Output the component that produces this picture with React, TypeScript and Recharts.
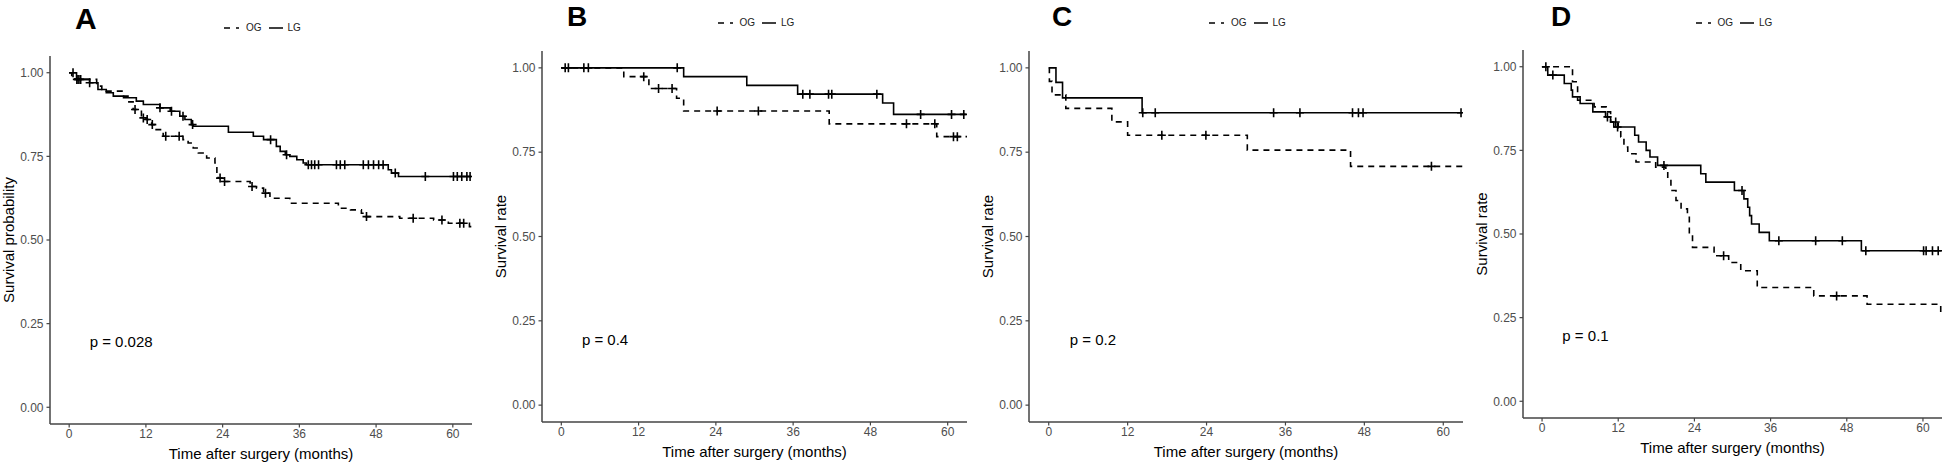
import {
  ComposedChart,
  Line,
  Scatter,
  XAxis,
  YAxis,
  Label,
  Legend,
  ReferenceDot,
} from "recharts";

type Step = [number, number];

const MONTH_TICKS = [0, 12, 24, 36, 48, 60];
const RATE_TICKS = [0, 0.25, 0.5, 0.75, 1];
const GROUPS = ["OG", "LG"];

// Kaplan-Meier steps: [month, survival]
const A_OG: Step[] = [
  [0, 1], [0.4, 0.985], [0.9, 0.98], [4.3, 0.96], [5.1, 0.95], [5.8, 0.945],
  [8.5, 0.93], [9.2, 0.913], [10.0, 0.89], [11.3, 0.865], [12.1, 0.86],
  [12.9, 0.845], [13.4, 0.83], [14.7, 0.81], [17.8, 0.8], [18.6, 0.79],
  [19.4, 0.775], [20.2, 0.76], [21.5, 0.745], [22.8, 0.73], [23.1, 0.7],
  [23.3, 0.685], [24.1, 0.675], [28.3, 0.66], [29.3, 0.655], [30.4, 0.64],
  [31.4, 0.625], [34.5, 0.61], [42.1, 0.595], [44.0, 0.59], [45.7, 0.58],
  [46.3, 0.57], [51.7, 0.565], [57.0, 0.56], [59.3, 0.55], [62.6, 0.54],
  [63, 0.54],
];
const A_LG: Step[] = [
  [0, 1], [1.15, 0.98], [3.2, 0.97], [4.5, 0.95], [5.8, 0.94], [6.9, 0.93],
  [8.5, 0.925], [10.5, 0.915], [11.6, 0.905], [14.2, 0.895], [15.8, 0.885],
  [17.3, 0.87], [18.1, 0.86], [19.1, 0.845], [19.4, 0.84], [24.9, 0.822],
  [28.8, 0.81], [30.4, 0.8], [32.4, 0.78], [33.0, 0.765], [33.8, 0.755],
  [34.5, 0.75], [35.6, 0.74], [36.6, 0.73], [37.1, 0.725], [49.9, 0.71],
  [50.4, 0.7], [51.5, 0.69], [62.9, 0.69],
];
const A_OG_CENSOR = [1.2, 1.8, 10.3, 11.6, 12.2, 13.0, 15.1, 17.2, 23.6, 24.3, 28.6, 30.7, 46.5, 53.8, 58.3, 61.1, 61.7];
const A_LG_CENSOR = [0.6, 1.4, 1.7, 3.2, 14.2, 16.0, 17.8, 19.3, 31.5, 34.0, 37.4, 37.9, 38.4, 39.0, 41.8, 42.4, 43.1, 46.0, 46.8, 47.6, 48.4, 49.1, 51.0, 55.7, 60.1, 60.7, 61.4, 62.2, 62.7];

const B_OG: Step[] = [
  [0, 1], [9.7, 0.974], [13.6, 0.939], [17.9, 0.91], [19.0, 0.872],
  [41.6, 0.834], [58.3, 0.796], [63, 0.796],
];
const B_LG: Step[] = [
  [0, 1], [19.0, 0.974], [28.8, 0.948], [36.7, 0.922], [49.9, 0.896],
  [51.6, 0.862], [62.8, 0.862],
];
const B_OG_CENSOR = [12.8, 15.1, 17.2, 24.2, 30.6, 53.6, 58.0, 60.9, 61.5];
const B_LG_CENSOR = [0.6, 1.1, 3.5, 4.2, 18.0, 37.5, 38.6, 41.5, 42.0, 49.0, 55.8, 60.6, 62.5];

const C_OG: Step[] = [
  [0, 1], [0.1, 0.96], [0.5, 0.92], [2.6, 0.88], [9.6, 0.84], [12.0, 0.8],
  [30.2, 0.756], [45.9, 0.708], [63, 0.708],
];
const C_LG: Step[] = [
  [0, 1], [1.1, 0.957], [2.1, 0.911], [14.2, 0.867], [62.9, 0.867],
];
const C_OG_CENSOR = [17.2, 23.9, 58.2];
const C_LG_CENSOR = [14.3, 16.2, 34.2, 38.2, 46.2, 47.1, 47.8, 62.7];

const D_OG: Step[] = [
  [0, 1], [4.8, 0.955], [5.6, 0.9], [8.2, 0.88], [10.1, 0.865], [10.8, 0.835],
  [12.0, 0.81], [12.4, 0.79], [12.9, 0.76], [13.5, 0.74], [14.8, 0.715],
  [17.9, 0.7], [19.5, 0.69], [19.8, 0.665], [20.3, 0.63], [21.1, 0.6],
  [21.9, 0.575], [22.9, 0.55], [23.2, 0.5], [23.7, 0.46], [27.1, 0.435],
  [29.4, 0.415], [31.3, 0.39], [33.9, 0.34], [42.8, 0.315], [51.2, 0.29],
  [62.8, 0.265], [63, 0.265],
];
const D_LG: Step[] = [
  [0, 1], [0.9, 0.975], [3.5, 0.95], [4.6, 0.93], [4.8, 0.91], [6.0, 0.89],
  [8.0, 0.865], [10.0, 0.85], [10.8, 0.835], [11.3, 0.82], [14.6, 0.795],
  [15.2, 0.775], [16.4, 0.75], [17.0, 0.73], [18.2, 0.705], [25.0, 0.68],
  [25.8, 0.655], [30.3, 0.63], [31.8, 0.605], [32.4, 0.58], [32.7, 0.555],
  [33.0, 0.53], [34.2, 0.505], [35.8, 0.48], [50.3, 0.45], [62.9, 0.45],
];
const D_OG_CENSOR = [11.6, 28.6, 46.4];
const D_LG_CENSOR = [0.6, 1.7, 10.3, 11.9, 19.2, 31.5, 37.3, 43.1, 47.3, 51.0, 60.1, 60.5, 61.5, 62.4];

const PANELS = [
  { letter: "A", yTitle: "Survival probability", p: "p = 0.028", og: A_OG, lg: A_LG, ogCensor: A_OG_CENSOR, lgCensor: A_LG_CENSOR, plot: { left: 50, right: 472, top: 56, bottom: 424 }, legendY: 28, letterX: 25, letterY: 29, letterSize: 30 },
  { letter: "B", yTitle: "Survival rate", p: "p = 0.4", og: B_OG, lg: B_LG, ogCensor: B_OG_CENSOR, lgCensor: B_LG_CENSOR, plot: { left: 542, right: 967, top: 51, bottom: 422 }, legendY: 23, letterX: 25, letterY: 26, letterSize: 28 },
  { letter: "C", yTitle: "Survival rate", p: "p = 0.2", og: C_OG, lg: C_LG, ogCensor: C_OG_CENSOR, lgCensor: C_LG_CENSOR, plot: { left: 1029, right: 1463, top: 51, bottom: 422 }, legendY: 23, letterX: 23, letterY: 26, letterSize: 28 },
  { letter: "D", yTitle: "Survival rate", p: "p = 0.1", og: D_OG, lg: D_LG, ogCensor: D_OG_CENSOR, lgCensor: D_LG_CENSOR, plot: { left: 1523, right: 1942, top: 50, bottom: 418 }, legendY: 23, letterX: 28, letterY: 26, letterSize: 28 },
];

const AXIS = "#444";
const TICK_TEXT = "#4d4d4d";
const DASH = "6 5";
const Y_AXIS_W = 60;
const X_AXIS_H = 45;

const toPoints = (steps: Step[]) => steps.map(([t, s]) => ({ t, s }));
const survivalAt = (steps: Step[], t: number) => {
  let s = 1;
  for (const [ti, si] of steps) if (ti <= t) s = si;
  return s;
};
const censorPoints = (steps: Step[], times: number[]) =>
  times.map((t) => ({ t, s: survivalAt(steps, t) }));

const Plus = (props: any) => {
  const { cx, cy } = props;
  if (cx == null || cy == null) return null;
  return (
    <path
      d={`M${cx - 4},${cy}h8M${cx},${cy - 4.5}v9`}
      stroke="#000"
      strokeWidth={1.6}
      fill="none"
    />
  );
};

function LegendKeys() {
  return (
    <div style={{ display: "flex", alignItems: "center", fontSize: 10, color: "#222", lineHeight: "10px" }}>
      {GROUPS.map((g, i) => (
        <span key={g} style={{ display: "flex", alignItems: "center" }}>
          <svg width={i === 0 ? 15 : 14} height={8} style={{ marginRight: i === 0 ? 7 : 5, marginLeft: i === 0 ? 0 : 7 }}>
            <line x1={0} x2={i === 0 ? 15 : 14} y1={4} y2={4} stroke="#000" strokeWidth={1.5} strokeDasharray={i === 0 ? "6 6" : undefined} />
          </svg>
          <span>{g}</span>
        </span>
      ))}
    </div>
  );
}

function Panel({ cfg }: { cfg: (typeof PANELS)[number] }) {
  const { plot } = cfg;
  const chartLeft = plot.left - Y_AXIS_W;
  const width = plot.right - plot.left + Y_AXIS_W + 4;
  const height = plot.bottom + X_AXIS_H;
  const midX = (plot.left + plot.right) / 2 - chartLeft;
  const midY = (plot.top + plot.bottom) / 2;

  return (
    <div style={{ position: "absolute", left: chartLeft, top: 0, width, height }}>
      <svg
        width={80}
        height={40}
        style={{ position: "absolute", left: plot.left - chartLeft + cfg.letterX - 2, top: 0 }}
      >
        <text x={2} y={cfg.letterY} fontSize={cfg.letterSize} fontWeight={700} fill="#000">
          {cfg.letter}
        </text>
      </svg>
      <ComposedChart
        width={width}
        height={height}
        margin={{ top: plot.top, right: 4, bottom: 0, left: 0 }}
      >
        <XAxis
          type="number"
          dataKey="t"
          domain={[-3, 63]}
          ticks={MONTH_TICKS}
          allowDataOverflow
          height={X_AXIS_H}
          axisLine={{ stroke: AXIS, strokeWidth: 1.5 }}
          tickLine={{ stroke: AXIS, strokeWidth: 1.2 }}
          tickSize={3.5}
          tickMargin={2}
          tick={{ fill: TICK_TEXT, fontSize: 12 }}
        >
          <Label
            content={() => (
              <text x={midX} y={plot.bottom + 29} textAnchor="middle" dominantBaseline="central" fontSize={15} fill="#000">
                Time after surgery (months)
              </text>
            )}
          />
        </XAxis>
        <YAxis
          type="number"
          dataKey="s"
          domain={[-0.05, 1.05]}
          ticks={RATE_TICKS}
          allowDataOverflow
          width={Y_AXIS_W}
          axisLine={{ stroke: AXIS, strokeWidth: 1.5 }}
          tickLine={{ stroke: AXIS, strokeWidth: 1.2 }}
          tickSize={3.5}
          tickMargin={3}
          tick={{ fill: TICK_TEXT, fontSize: 12 }}
          tickFormatter={(v: number) => v.toFixed(2)}
        >
          <Label
            content={() => (
              <text
                x={Y_AXIS_W - 42}
                y={midY}
                transform={`rotate(-90, ${Y_AXIS_W - 42}, ${midY})`}
                textAnchor="middle"
                dominantBaseline="central"
                fontSize={15}
                fill="#000"
              >
                {cfg.yTitle}
              </text>
            )}
          />
        </YAxis>
        <Legend
          verticalAlign="middle"
          align="center"
          layout="horizontal"
          wrapperStyle={{ top: cfg.legendY - 5, left: midX - 37, width: 90, height: 10 }}
          content={() => <LegendKeys />}
        />
        <Line
          data={toPoints(cfg.og)}
          dataKey="s"
          name="OG"
          type="stepAfter"
          stroke="#000"
          strokeWidth={1.6}
          strokeDasharray={DASH}
          dot={false}
          activeDot={false}
          isAnimationActive={false}
        />
        <Line
          data={toPoints(cfg.lg)}
          dataKey="s"
          name="LG"
          type="stepAfter"
          stroke="#000"
          strokeWidth={1.6}
          dot={false}
          activeDot={false}
          isAnimationActive={false}
        />
        <Scatter data={censorPoints(cfg.og, cfg.ogCensor)} dataKey="s" shape={Plus} legendType="none" isAnimationActive={false} />
        <Scatter data={censorPoints(cfg.lg, cfg.lgCensor)} dataKey="s" shape={Plus} legendType="none" isAnimationActive={false} />
        <ReferenceDot
          x={3.2}
          y={0.2}
          r={0}
          stroke="none"
          fill="none"
          label={(props: any) => {
            const vb = props.viewBox || {};
            return (
              <text x={vb.x} y={vb.y + 7} textAnchor="start" fontSize={15} fill="#000">
                {cfg.p}
              </text>
            );
          }}
        />
      </ComposedChart>
    </div>
  );
}

export default function App() {
  return (
    <div
      style={{
        position: "absolute",
        left: 0,
        top: 0,
        width: 1946,
        height: 464,
        background: "#fff",
        fontFamily: "'Liberation Sans', Arial, sans-serif",
      }}
    >
      {PANELS.map((cfg) => (
        <Panel key={cfg.letter} cfg={cfg} />
      ))}
    </div>
  );
}
